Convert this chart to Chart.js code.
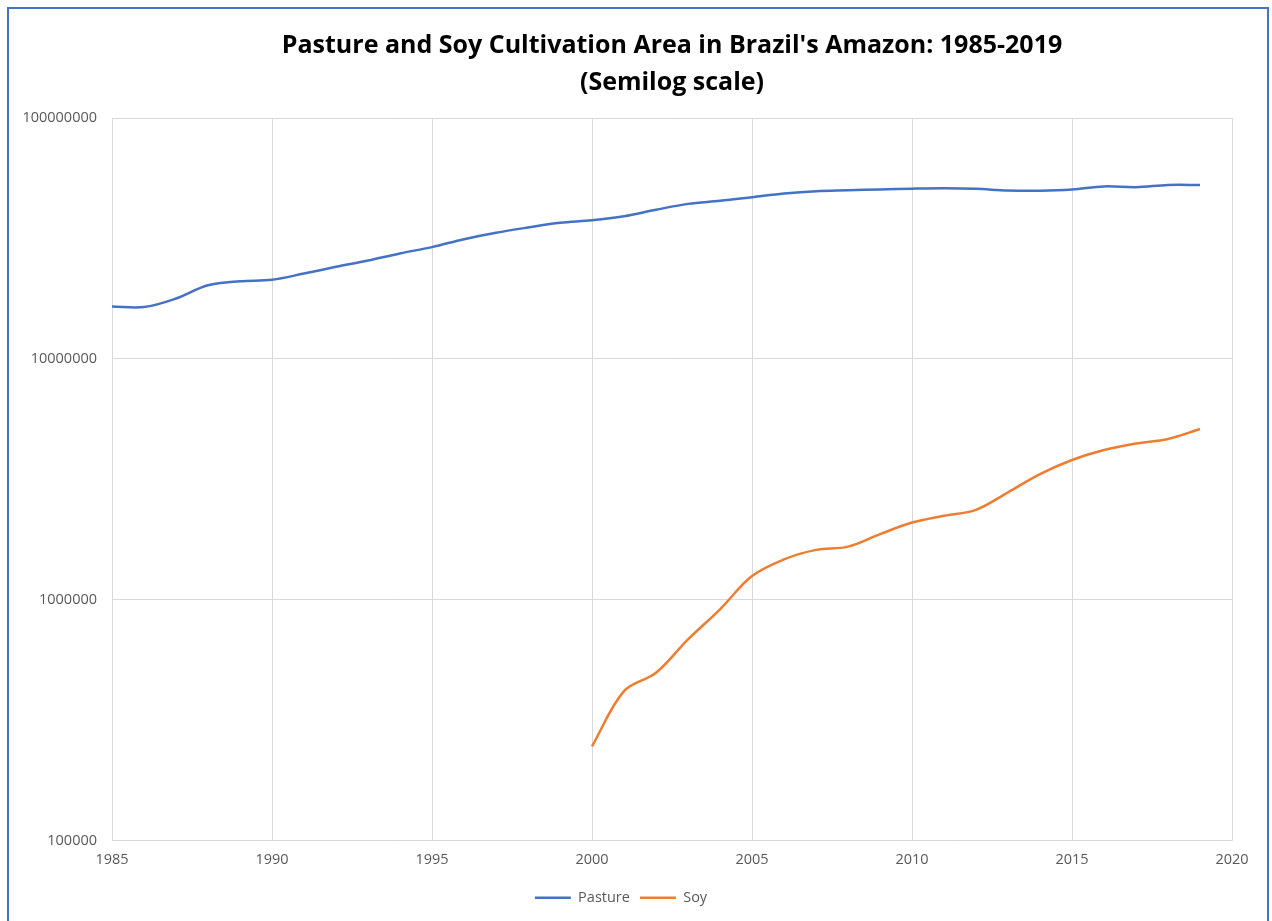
<!DOCTYPE html>
<html>
<head>
<meta charset="utf-8">
<title>Pasture and Soy Cultivation Area in Brazil's Amazon</title>
<script src="https://cdn.jsdelivr.net/npm/chart.js@4.4.1/dist/chart.umd.min.js"></script>
<style>
  html, body { margin: 0; padding: 0; background: #ffffff; overflow: hidden; }
  #frame {
    position: absolute; left: 7px; top: 7px; width: 1262px; height: 1000px;
    border: 2px solid #4472C4; box-sizing: border-box;
  }
  #wrap { position: absolute; left: 0; top: 0; width: 1272px; height: 921px; }
</style>
</head>
<body>
<div id="frame"></div>
<div id="wrap"><canvas id="chart"></canvas></div>
<script>
// Area in hectares, yearly
const years = [1985, 1986, 1987, 1988, 1989, 1990, 1991, 1992, 1993, 1994,
               1995, 1996, 1997, 1998, 1999, 2000, 2001, 2002, 2003, 2004,
               2005, 2006, 2007, 2008, 2009, 2010, 2011, 2012, 2013, 2014,
               2015, 2016, 2017, 2018, 2019];
const pasture = [16500000, 16400000, 17800000, 20200000, 21000000, 21300000, 22600000, 24100000, 25600000, 27400000,
                 29100000, 31400000, 33400000, 35100000, 36700000, 37600000, 39100000, 41600000, 44000000, 45300000,
                 46900000, 48600000, 49700000, 50100000, 50500000, 50900000, 51100000, 50800000, 50000000, 49900000,
                 50500000, 52000000, 51600000, 52700000, 52700000];

const soyYears = [2000, 2001, 2002, 2003, 2004, 2005, 2006, 2007, 2008, 2009,
                  2010, 2011, 2012, 2013, 2014, 2015, 2016, 2017, 2018, 2019];
const soy = [246000, 417000, 497000, 684000, 912000, 1253000, 1470000, 1610000, 1660000, 1870000,
             2090000, 2230000, 2360000, 2790000, 3320000, 3800000, 4180000, 4450000, 4650000, 5110000];

const xTicks = [1985, 1990, 1995, 2000, 2005, 2010, 2015, 2020];
const yTicks = [100000, 1000000, 10000000, 100000000];

const titleLines = ["Pasture and Soy Cultivation Area in Brazil's Amazon: 1985-2019", "(Semilog scale)"];

const GRID = '#d9d9d9';
const TICK_COLOR = '#595959';
const TICK_FONT = { family: "'Open Sans', sans-serif", size: 14.5 };

const toPoints = (xs, ys) => xs.map((x, i) => ({ x: x, y: ys[i] }));

new Chart(document.getElementById('chart'), {
  type: 'line',
  data: {
    datasets: [
      {
        label: 'Pasture',
        data: toPoints(years, pasture),
        borderColor: '#4472C4',
        backgroundColor: '#4472C4',
        borderWidth: 2.5,
        pointRadius: 0,
        tension: 0.35,
        fill: false
      },
      {
        label: 'Soy',
        data: toPoints(soyYears, soy),
        borderColor: '#ED7D31',
        backgroundColor: '#ED7D31',
        borderWidth: 2.5,
        pointRadius: 0,
        tension: 0.35,
        fill: false
      }
    ]
  },
  options: {
    responsive: true,
    maintainAspectRatio: false,
    animation: false,
    layout: { padding: { left: 10, right: 40, top: 0, bottom: 6 } },
    plugins: {
      title: {
        display: true,
        fullSize: false,
        text: titleLines,
        color: '#000000',
        font: { family: "'Open Sans', sans-serif", size: 25, weight: 'bold', lineHeight: '37px' },
        padding: { top: 27, bottom: 17 }
      },
      legend: {
        display: true,
        position: 'bottom',
        labels: {
          usePointStyle: true,
          pointStyle: 'line',
          pointStyleWidth: 36,
          boxHeight: 14,
          color: TICK_COLOR,
          font: TICK_FONT,
          padding: 10
        }
      },
      tooltip: { enabled: false }
    },
    scales: {
      x: {
        type: 'linear',
        min: 1985,
        max: 2020,
        afterBuildTicks: (scale) => { scale.ticks = xTicks.map(v => ({ value: v })); },
        afterFit: (scale) => { scale.height = 40; },
        ticks: {
          color: TICK_COLOR,
          font: TICK_FONT,
          padding: 11,
          maxRotation: 0,
          callback: (v) => String(v)
        },
        grid: { color: GRID, lineWidth: 1, drawTicks: false },
        border: { color: GRID }
      },
      y: {
        type: 'logarithmic',
        min: 100000,
        max: 100000000,
        afterBuildTicks: (scale) => { scale.ticks = yTicks.map(v => ({ value: v })); },
        afterFit: (scale) => { scale.width = 102; },
        ticks: {
          color: TICK_COLOR,
          font: TICK_FONT,
          padding: 15,
          callback: (v) => String(v)
        },
        grid: { color: GRID, lineWidth: 1, drawTicks: false },
        border: { color: GRID }
      }
    }
  }
});
</script>
</body>
</html>
